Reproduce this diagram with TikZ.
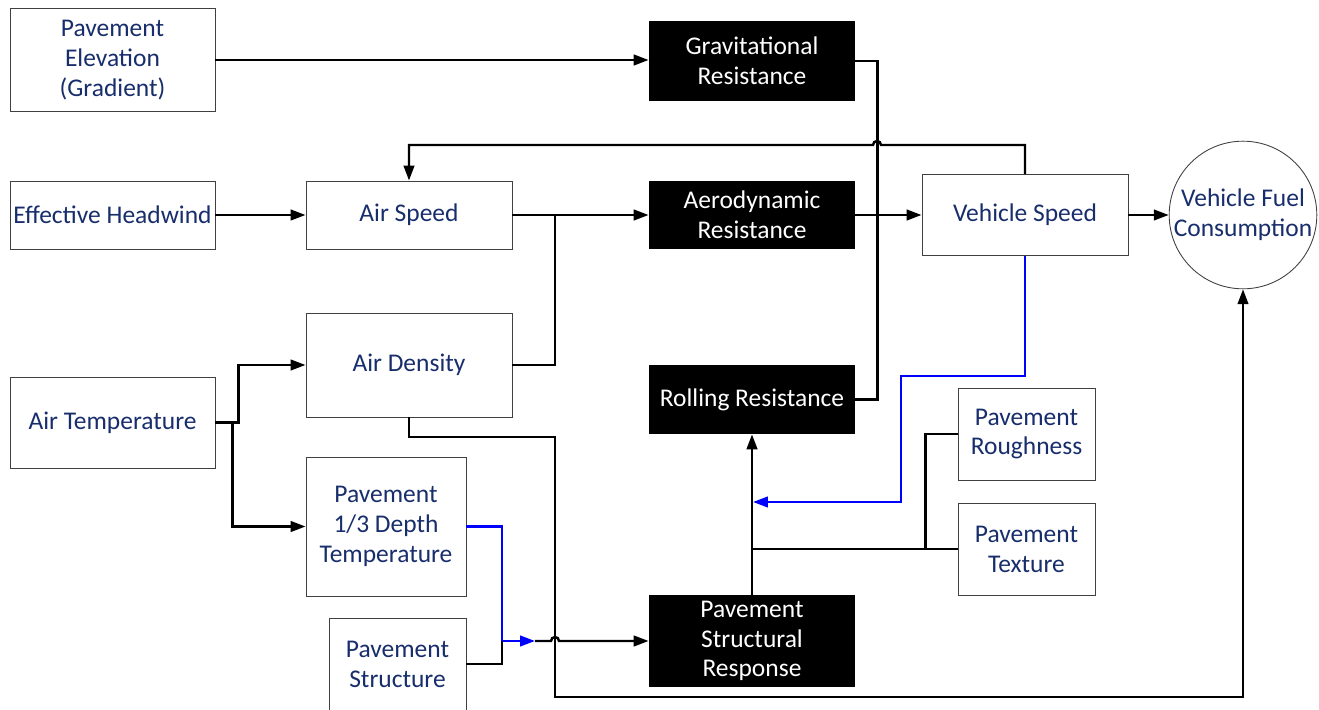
\documentclass[tikz,border=0pt]{standalone}
\usepackage{fontspec}
\setmainfont{Carlito}
\usetikzlibrary{arrows.meta}
\definecolor{navy}{RGB}{24,46,108}

\begin{document}
\begin{tikzpicture}
  [x=0.2mm,y=0.2mm,
   every node/.style={align=center, inner sep=0pt, font=\fontsize{14.5}{17}\selectfont},
   box/.style={draw=black!75, line width=0.5pt, fill=white, text=navy},
   blk/.style={fill=black, text=white, minimum width=41.2mm},
   wire/.style={line width=1.4pt, black},
   arr/.style={wire, -{Triangle[length=8.5pt,width=6pt]}},
   barr/.style={arr, blue}]
  \clip (0,0) rectangle (1319,709);

  \node[box, minimum width=41mm, minimum height=20.6mm] (elev) at (112.5,649) {Pavement\\Elevation\\(Gradient)};
  \node[box, minimum width=41mm, minimum height=13.6mm] (wind) at (112.5,494) {Effective Headwind};
  \node[box, minimum width=41mm, minimum height=18.2mm] (temp) at (112.5,286.5) {Air Temperature};
  \node[box, minimum width=41.2mm, minimum height=13.6mm] (airspd) at (409,494) {Air Speed};
  \node[box, minimum width=41.2mm, minimum height=20.8mm] (dens) at (409,344) {Air Density};
  \node[box, minimum width=32mm, minimum height=27.8mm] (depth) at (386,182.5) {Pavement\\1/3 Depth\\Temperature};
  \node[box, minimum width=27.4mm, minimum height=18.4mm] (struct) at (397.5,45) {Pavement\\Structure};
  \node[blk, minimum height=16mm] (grav) at (752,648) {Gravitational\\Resistance};
  \node[blk, minimum height=13.6mm] (aero) at (752,494) {Aerodynamic\\Resistance};
  \node[blk, minimum height=13.8mm] (roll) at (752,309.5) {Rolling Resistance};
  \node[blk, minimum height=18.4mm] (resp) at (752,68) {Pavement\\Structural\\Response};
  \node[box, minimum width=41.2mm, minimum height=16.2mm] (vspd) at (1025,494) {Vehicle Speed};
  \node[box, minimum width=27.4mm, minimum height=18.4mm] (rough) at (1026.5,275) {Pavement\\Roughness};
  \node[box, minimum width=27.4mm, minimum height=18.4mm] (texture) at (1026.5,160) {Pavement\\Texture};
  \node[box, circle, minimum size=28.8mm] (fuel) at (1243,494) {Vehicle Fuel\\Consumption};

  \coordinate (jair) at (555,494);
  \coordinate (jmix) at (535,68);
  \coordinate (jroll) at (753,207);

  \draw[arr] (elev.east) -- (elev.east -| grav.west);
  \draw[wire] (grav.east) -- ++(22,0) |- (roll.east);
  \draw[arr] (vspd.north) |- (881,564) arc[start angle=0, end angle=180, radius=4] -| (airspd.north);
  \draw[arr] (wind.east) -- (airspd.west);
  \draw[arr] (airspd.east) -- (aero.west);
  \draw[wire] (dens.east) -| (jair);
  \draw[arr] (aero.east) -- (vspd.west);
  \draw[arr] (vspd.east) -- (fuel.west);
  \draw[arr] (temp.east) -- ++(23,0) |- (dens.west);
  \draw[arr] (temp.east) -- ++(17,0) |- (depth.west);
  \draw[arr] (dens.south) |- (555,272) |- (1243,12) -- (fuel.south);
  \draw[barr] (depth.east) -| (502,68) -- (jmix);
  \draw[wire] (struct.east) -| (502,68);
  \draw[arr] (jmix) -- (551,68) arc[start angle=180, end angle=0, radius=4] -- (resp.west);
  \draw[barr] (vspd.south) |- (901,333) |- (jroll);
  \draw[arr] (resp.north) -- (roll.south);
  \draw[wire] (texture.west) -- (texture.west -| resp.north);
  \draw[wire] (rough.west) -- ++(-32,0) |- (texture.west);
\end{tikzpicture}
\end{document}
